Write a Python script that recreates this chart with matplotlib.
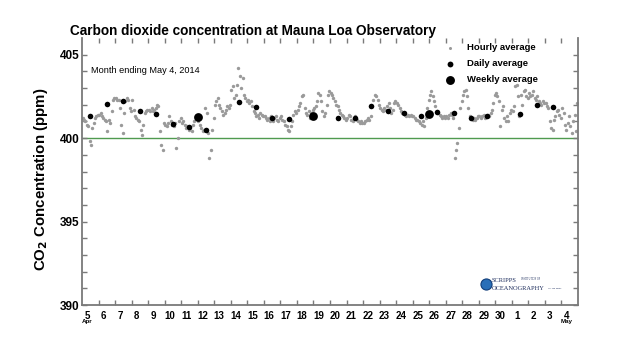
import numpy as np
import matplotlib
matplotlib.use("Agg")
import matplotlib.pyplot as plt
import matplotlib.transforms as mtransforms

plt.rcParams['font.family'] = ['Liberation Sans', 'DejaVu Sans']

# day labels along the x axis (Apr 5 .. May 4, 2014)
day_labels = [str(d) for d in range(5, 31)] + ['1', '2', '3', '4']

# hourly averages, 12 readings per day (every 2 hours), one row per day
hourly_ppm = [
    [401.2, 401.1, 401.0, 400.8, 400.7, 399.8, 399.6, 400.6, 400.9, 401.2, 401.3, 401.4],
    [401.4, 401.5, 401.3, 401.2, 401.1, 401.0, 400.4, 401.1, 400.9, 401.6, 402.3, 402.4],
    [402.4, 402.3, 402.3, 401.8, 400.8, 400.3, 401.5, 402.2, 402.4, 402.3, 401.8, 401.6],
    [402.3, 401.7, 401.3, 401.2, 401.1, 401.0, 400.5, 400.2, 400.8, 401.5, 401.6, 401.7],
    [401.7, 401.6, 401.8, 401.6, 401.7, 401.8, 402.0, 401.9, 400.4, 399.6, 399.3, 400.9],
    [400.8, 400.7, 400.9, 401.3, 401.0, 400.8, 400.7, 400.9, 399.4, 400.0, 401.0, 401.2],
    [400.9, 401.0, 400.8, 400.6, 400.7, 400.5, 400.6, 400.4, 400.8, 401.0, 401.3, 401.2],
    [401.0, 400.8, 400.6, 400.4, 400.5, 401.8, 401.5, 400.3, 398.8, 399.3, 400.5, 401.2],
    [402.0, 402.2, 402.4, 402.0, 401.8, 401.6, 401.4, 401.5, 401.7, 401.9, 401.8, 402.0],
    [402.9, 403.1, 402.4, 402.6, 403.2, 404.2, 403.7, 403.0, 403.6, 402.6, 402.4, 402.2],
    [402.3, 402.1, 402.2, 401.9, 401.6, 401.5, 401.3, 401.4, 401.2, 401.5, 401.4, 401.3],
    [401.3, 401.2, 401.1, 401.2, 401.0, 401.3, 401.0, 401.2, 401.3, 401.1, 401.0, 401.2],
    [401.3, 401.1, 401.0, 400.8, 400.7, 400.5, 400.4, 400.7, 401.0, 401.4, 401.6, 401.5],
    [401.7, 401.9, 402.1, 402.5, 402.6, 401.8, 401.5, 401.4, 401.6, 401.2, 401.5, 401.7],
    [401.8, 401.9, 402.2, 402.7, 402.6, 402.2, 401.6, 401.3, 401.5, 402.0, 402.6, 402.8],
    [402.7, 402.6, 402.4, 402.2, 402.0, 401.9, 401.7, 401.5, 401.4, 401.3, 401.2, 401.1],
    [401.2, 401.4, 401.3, 401.1, 401.0, 401.2, 401.3, 401.1, 401.0, 400.9, 401.0, 400.9],
    [400.9, 401.0, 401.1, 401.2, 401.1, 401.3, 401.9, 402.3, 402.6, 402.5, 402.3, 402.0],
    [401.8, 401.7, 401.6, 401.8, 401.7, 401.9, 402.1, 401.8, 401.5, 401.7, 402.1, 402.2],
    [402.1, 402.0, 401.8, 401.6, 401.5, 401.5, 401.4, 401.3, 401.4, 401.3, 401.4, 401.3],
    [401.3, 401.2, 401.1, 401.1, 401.0, 400.9, 400.8, 401.0, 400.7, 401.2, 401.8, 402.3],
    [402.6, 402.8, 402.5, 402.2, 401.9, 401.6, 401.5, 401.4, 401.3, 401.2, 401.3, 401.2],
    [401.3, 401.2, 401.4, 401.5, 401.4, 401.2, 398.8, 399.3, 399.7, 400.6, 401.8, 402.2],
    [402.6, 402.8, 402.9, 402.5, 401.8, 401.3, 401.2, 401.1, 401.2, 401.1, 401.2, 401.3],
    [401.3, 401.2, 401.3, 401.4, 401.2, 401.3, 401.4, 401.3, 401.5, 401.7, 402.1, 402.6],
    [402.7, 402.5, 402.2, 400.7, 401.7, 401.9, 401.2, 401.0, 401.3, 401.0, 401.5, 401.7],
    [401.6, 401.9, 403.1, 403.2, 402.5, 401.3, 402.6, 402.0, 402.8, 402.9, 402.5, 402.4],
    [402.7, 402.5, 402.6, 402.8, 402.4, 402.3, 402.5, 402.2, 402.1, 402.0, 402.2, 402.1],
    [402.1, 401.9, 401.8, 401.0, 400.6, 400.5, 401.1, 401.3, 401.6, 401.7, 401.4, 401.2],
    [401.8, 401.5, 400.8, 400.5, 400.9, 401.3, 400.7, 400.3, 401.0, 401.4, 400.4, 402.1],
]

# daily averages (day index from Apr 5, plotted at noon)
daily_day = [0, 1, 2, 3, 4, 5, 6, 7, 9, 10, 11, 12, 15, 16, 17, 18, 19, 20, 21, 22, 23, 24, 26, 27, 28]
daily_ppm = [401.3, 402.05, 402.2, 401.6, 401.45, 400.85, 400.65, 400.5, 402.15, 401.85, 401.2, 401.15,
             401.2, 401.2, 401.9, 401.65, 401.5, 401.35, 401.55, 401.5, 401.2, 401.3, 401.45, 402.0, 401.85]

# weekly averages (at start of day index)
weekly_day = [7, 14, 21]
weekly_ppm = [401.25, 401.35, 401.45]

hourly_x = []
hourly_y = []
for d, row in enumerate(hourly_ppm):
    for k, v in enumerate(row):
        hourly_x.append(d + (k + 0.5) / len(row))
        hourly_y.append(v)

fig = plt.figure(figsize=(6.2, 3.53), dpi=100)
ax = fig.add_axes([82 / 620, 1 - 305 / 353, 496 / 620, 267 / 353])

spine_col = '#7a7a7a'
ax.axhline(400, color='#4f9a4f', lw=1.0, zorder=1)
ax.scatter(hourly_x, hourly_y, s=6, color='#9a9a9a', lw=0, zorder=2)
ax.scatter(np.array(daily_day) + 0.5, daily_ppm, s=16, color='black', lw=0, zorder=3)
ax.scatter(weekly_day, weekly_ppm, s=40, color='black', lw=0, zorder=4)

ax.set_xlim(0, 30)
ax.set_ylim(390, 406)

for side in ['left', 'bottom', 'right']:
    ax.spines[side].set_color(spine_col)
    ax.spines[side].set_linewidth(1.3)
ax.spines['top'].set_visible(False)

ax.set_yticks([390, 395, 400, 405])
ax.set_yticks(np.arange(390, 406), minor=True)
ax.set_xticks(np.arange(30) + 0.3, day_labels)
ax.set_xticks(np.arange(1, 30), minor=True)
ax.tick_params(axis='x', which='major', length=0, pad=4, labelsize=7)
ax.tick_params(axis='x', which='minor', direction='in', length=3.5, width=1.0,
               color=spine_col, top=True)
ax.tick_params(axis='y', which='both', direction='in', length=3.5, width=1.0,
               color=spine_col, right=True, pad=2)
ax.tick_params(axis='y', which='major', labelsize=8.5)
for lab in ax.get_xticklabels() + ax.get_yticklabels():
    lab.set_fontweight('bold')

trans = mtransforms.blended_transform_factory(ax.transData, ax.transAxes)
ax.text(0.3, -0.062, 'Apr', transform=trans, fontsize=4.5, fontweight='bold', ha='center', va='center')
ax.text(29.3, -0.062, 'May', transform=trans, fontsize=4.5, fontweight='bold', ha='center', va='center')

ax.set_ylabel(r'CO$_\mathbf{2}$ Concentration (ppm)', fontsize=10.8, fontweight='bold')
ax.yaxis.set_label_coords(-0.064, 0.47)

fig.text(70 / 620, 1 - 35 / 353, 'Carbon dioxide concentration at Mauna Loa Observatory',
         fontsize=9.8, fontweight='bold', va='baseline')

ax.text(0.019, 0.88, 'Month ending May 4, 2014', transform=ax.transAxes, fontsize=6.6, va='center')

# legend drawn by hand to match the original layout
leg_x = (450 - 82) / 496
leg_tx = (467 - 82) / 496
leg_rows = [(48, 'Hourly average', 2.2, '#9a9a9a'),
            (64, 'Daily average', 4.2, 'black'),
            (80, 'Weekly average', 6.4, 'black')]
for py, label, ms, col in leg_rows:
    y = (305 - py) / 267
    ax.plot([leg_x], [y], 'o', ms=ms, color=col, mew=0, transform=ax.transAxes, clip_on=False)
    ax.text(leg_tx, y, label, transform=ax.transAxes, fontsize=6.8, fontweight='bold', va='center')

# Scripps logo
ax.plot([(486 - 82) / 496], [(305 - 284) / 267], 'o', ms=8, color='#2a6fb8', mec='#123e7a', mew=0.8,
        transform=ax.transAxes)
ax.text((492 - 82) / 496, (305 - 280) / 267, 'SCRIPPS', transform=ax.transAxes, fontsize=4.6,
        family=['Liberation Serif', 'DejaVu Serif'], color='#1c2c5c', va='center')
ax.text((521 - 82) / 496, (305 - 279.5) / 267, 'INSTITUTION OF', transform=ax.transAxes, fontsize=1.8,
        family=['Liberation Serif', 'DejaVu Serif'], color='#1c2c5c', va='center')
ax.text((492 - 82) / 496, (305 - 288) / 267, 'OCEANOGRAPHY', transform=ax.transAxes, fontsize=4.6,
        family=['Liberation Serif', 'DejaVu Serif'], color='#1c2c5c', va='center')
ax.text((548 - 82) / 496, (305 - 288) / 267, 'UC San Diego', transform=ax.transAxes, fontsize=1.6,
        family=['Liberation Serif', 'DejaVu Serif'], color='#1c2c5c', va='center')

fig.savefig('out.png', dpi=100)
